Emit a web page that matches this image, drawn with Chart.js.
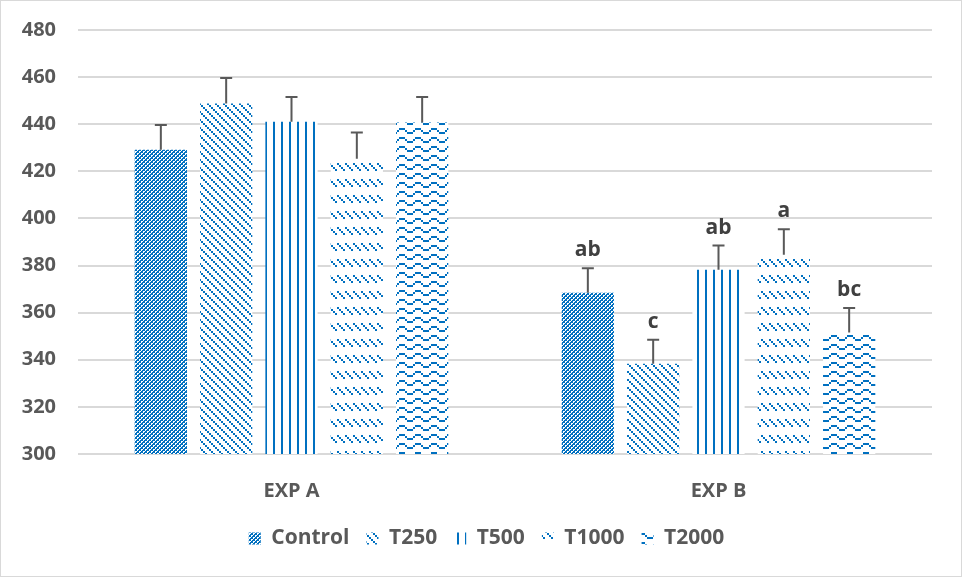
<!DOCTYPE html>
<html>
<head>
<meta charset="utf-8">
<script src="https://cdn.jsdelivr.net/npm/chart.js@4/dist/chart.umd.min.js"></script>
<style>
  html, body { margin: 0; padding: 0; background: #fff; }
  #wrap { width: 960px; height: 575px; border: 1px solid #D9D9D9; }
</style>
</head>
<body>
<div id="wrap"><canvas id="expChart" width="960" height="575"></canvas></div>
<script>
const categories = ['EXP A', 'EXP B'];
const seriesNames = ['Control', 'T250', 'T500', 'T1000', 'T2000'];

const controlMeans = [429.2, 368.5];
const t250Means = [448.8, 338.3];
const t500Means = [441.0, 378.2];
const t1000Means = [425.3, 384.6];
const t2000Means = [440.7, 351.6];

const controlErr = [10.5, 10.4];
const t250Err = [10.8, 10.2];
const t500Err = [10.6, 10.3];
const t1000Err = [11.2, 10.8];
const t2000Err = [10.9, 10.4];

const lettersA = ['', '', '', '', ''];
const lettersB = ['ab', 'c', 'ab', 'a', 'bc'];

const yTicks = [300, 320, 340, 360, 380, 400, 420, 440, 460, 480];

const BLUE = '#0070C0';
const TEXT = '#595959';
const FONT = "'Open Sans', sans-serif";

// small pixel tiles, like the Excel pattern fills
function makePattern(w, h, cells, inverse) {
  const c = document.createElement('canvas');
  c.width = w;
  c.height = h;
  const g = c.getContext('2d');
  g.fillStyle = inverse ? BLUE : '#fff';
  g.fillRect(0, 0, w, h);
  g.fillStyle = inverse ? '#fff' : BLUE;
  cells.forEach(p => g.fillRect(p[0], p[1], p[2] || 2, p[3] || 2));
  return g.createPattern(c, 'repeat');
}

const ctx = document.getElementById('expChart').getContext('2d');

// control: blue with white dots on a diagonal lattice
const checkPat = makePattern(4, 4, [[0, 0, 2, 1], [0, 1, 1, 1], [2, 2, 2, 1], [2, 3, 1, 1]], true);
const diagPat = makePattern(8, 8, [[0, 0], [2, 2], [4, 4], [6, 6]]);
const vertPat = makePattern(8, 8, [[0, 0, 2, 8]]);
const dashPat = makePattern(8, 16, [[0, 0], [2, 2], [4, 4], [6, 6]].map(p => [p[0], p[1] + 2]));
const wave = [0, 0, 1, 2, 2, 2, 1, 0];
const wavePat = makePattern(16, 9, wave.map((y, i) => [i * 2, y * 2 + 1]));

const patterns = [checkPat, diagPat, vertPat, dashPat, wavePat];
const means = [controlMeans, t250Means, t500Means, t1000Means, t2000Means];
const errs = [controlErr, t250Err, t500Err, t1000Err, t2000Err];

const datasets = seriesNames.map((name, i) => ({
  label: name,
  data: means[i],
  errors: errs[i],
  backgroundColor: patterns[i],
  borderWidth: 0,
  barPercentage: 0.8,
  categoryPercentage: 0.765,
}));

const errorBars = {
  id: 'errorBars',
  afterLayout(chart) {
    // centre the legend on the page rather than on the padded box
    chart.legend.left += 20;
    chart.legend.right += 20;
  },
  afterDatasetsDraw(chart) {
    const c = chart.ctx;
    const y = chart.scales.y;
    c.save();
    chart.data.datasets.forEach((ds, di) => {
      const meta = chart.getDatasetMeta(di);
      meta.data.forEach((bar, k) => {
        const top = y.getPixelForValue(ds.data[k] + ds.errors[k]);
        c.strokeStyle = TEXT;
        c.lineWidth = 2;
        c.beginPath();
        c.moveTo(bar.x, bar.y);
        c.lineTo(bar.x, top);
        c.moveTo(bar.x - 6, top);
        c.lineTo(bar.x + 6, top);
        c.stroke();
        const letter = (k === 0 ? lettersA : lettersB)[di];
        if (letter) {
          c.fillStyle = '#404040';
          c.font = 'bold 21px ' + FONT;
          c.textAlign = 'center';
          c.textBaseline = 'alphabetic';
          c.fillText(letter, bar.x, top - 12);
        }
      });
    });
    c.restore();
  }
};

const config = {
  type: 'bar',
  data: { labels: categories, datasets: datasets },
  options: {
    responsive: false,
    animation: false,
    devicePixelRatio: 1,
    layout: { padding: { top: 29, right: 29, left: 0, bottom: 17 } },
    plugins: {
      legend: {
        position: 'bottom',
        labels: {
          boxWidth: 12,
          boxHeight: 12,
          padding: 17,
          color: TEXT,
          font: { family: FONT, size: 21, weight: 'bold' }
        }
      },
      tooltip: { enabled: false }
    },
    scales: {
      x: {
        grid: { display: false },
        border: { display: false },
        afterFit(scale) {
          scale.height = 57;
        },
        ticks: {
          color: TEXT,
          padding: 17,
          font: { family: FONT, size: 20, weight: 'bold' }
        }
      },
      y: {
        min: 300,
        max: 480,
        afterBuildTicks(scale) {
          scale.ticks = yTicks.map(v => ({ value: v }));
        },
        afterFit(scale) {
          scale.width = 77;
          scale.paddingTop = 0;
          scale.paddingBottom = 0;
        },
        grid: { color: '#D9D9D9', lineWidth: 2, drawTicks: false },
        border: { display: false },
        ticks: {
          color: TEXT,
          padding: 22,
          font: { family: FONT, size: 20, weight: 'bold' }
        }
      }
    }
  },
  plugins: [errorBars]
};

const chartInstance = new Chart(ctx, config);
</script>
</body>
</html>
